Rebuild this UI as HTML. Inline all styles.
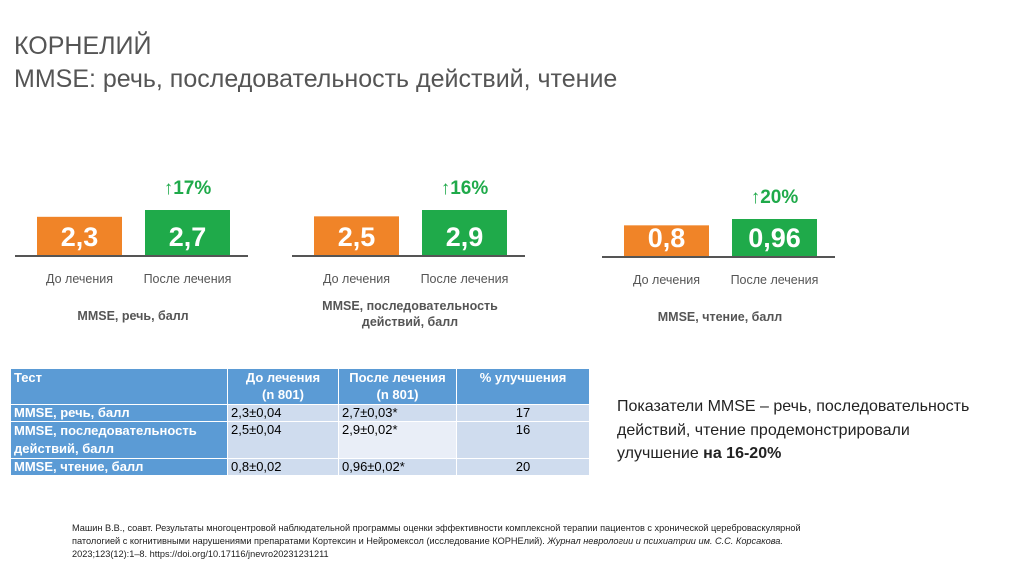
<!DOCTYPE html>
<html><head><meta charset="utf-8"><style>
body{margin:0;width:1024px;height:574px;background:#fff;font-family:"Liberation Sans",sans-serif;position:relative;overflow:hidden}
.t{position:absolute;left:14px;color:#555;font-size:25px}
table{position:absolute;left:10px;top:368px;border-collapse:collapse;font-size:13px;width:580px}
td{padding:0 3px;vertical-align:top;border:1px solid #fff;height:15px;line-height:16px}
.h td{background:#5b9bd5;color:#fff;font-weight:bold;text-align:center;height:35px;line-height:17px}
.h td:first-child{text-align:left}
.a td{background:#cfdcee}.b td{background:#e9eef7}
tr td.f{background:#5b9bd5;color:#fff;font-weight:bold}
.note{position:absolute;left:617px;top:395px;font-size:16px;line-height:23.5px;color:#222}
.foot{position:absolute;left:72px;top:522px;font-size:9.2px;line-height:13px;color:#222}
</style></head><body>
<div class="t" style="top:32px">КОРНЕЛИЙ</div>
<div class="t" style="top:65px">MMSE: речь, последовательность действий, чтение</div>
<svg id="c" width="1024" height="340" style="position:absolute;left:0;top:0"></svg>
<table>
<tr class="h"><td style="width:210px">Тест</td><td style="width:104px">До лечения<br>(n 801)</td><td style="width:111px">После лечения<br>(n 801)</td><td>% улучшения</td></tr>
<tr class="a"><td class="f">MMSE, речь, балл</td><td>2,3±0,04</td><td>2,7±0,03*</td><td style="text-align:center">17</td></tr>
<tr class="b"><td class="f" style="height:34px;line-height:18px">MMSE, последовательность действий, балл</td><td style="background:#cfdcee">2,5±0,04</td><td>2,9±0,02*</td><td style="text-align:center;background:#cfdcee">16</td></tr>
<tr class="a"><td class="f">MMSE, чтение, балл</td><td>0,8±0,02</td><td>0,96±0,02*</td><td style="text-align:center">20</td></tr>
</table>
<div class="note">Показатели MMSE – речь, последовательность<br>действий, чтение продемонстрировали<br>улучшение <b>на 16-20%</b></div>
<div class="foot">Машин В.В., соавт. Результаты многоцентровой наблюдательной программы оценки эффективности комплексной терапии пациентов с хронической цереброваскулярной<br>патологией с когнитивными нарушениями препаратами Кортексин и Нейромексол (исследование КОРНЕлий). <i>Журнал неврологии и психиатрии им. С.С. Корсакова.</i><br>2023;123(12):1–8. https://doi.org/10.17116/jnevro20231231211</div>
<script>
const charts=["MMSE, речь, балл","MMSE, последовательность|действий, балл","MMSE, чтение, балл"];
const before=[2.3,2.5,0.8];
const after=[2.7,2.9,0.96];
const beforeLabels=["2,3","2,5","0,8"];
const afterLabels=["2,7","2,9","0,96"];
const improve=["17%","16%","20%"];
const svg=document.getElementById('c');
const NS="http://www.w3.org/2000/svg";
const X0=[15,292,602], BASE=[256,256,257], HMAX=[46,46,38];
function mk(t,a,txt){const e=document.createElementNS(NS,t);for(const k in a)e.setAttribute(k,a[k]);if(txt!==undefined)e.textContent=txt;svg.appendChild(e);return e;}
function yScale(i,v){return BASE[i]-v/after[i]*HMAX[i];}
charts.forEach((c,i)=>{
 const x=X0[i];
 const ln=mk('line',{x1:x,x2:x+233,y1:BASE[i],y2:BASE[i],stroke:'#555','stroke-width':2});
 
 
 const vals=[before[i],after[i]],labs=[beforeLabels[i],afterLabels[i]],cols=['#f08428','#1faa4a'];
 vals.forEach((v,j)=>{
  const bx=x+22+j*108, y=yScale(i,v);
  const r=mk('rect',{x:bx,y:y,width:85,height:BASE[i]-y-1,fill:cols[j]});
  
  
  const t=mk('text',{x:bx+42.5,y:BASE[i]-10,'text-anchor':'middle',fill:'#fff','font-size':27,'font-weight':'bold'},labs[j]);
  
  
  const l=mk('text',{x:bx+42.5,y:BASE[i]+27,'text-anchor':'middle',fill:'#555','font-size':12.5},j?'После лечения':'До лечения');
  
  
 });
 const gx=x+130+42.5, gy=yScale(i,after[i]);
 const p=mk('text',{x:gx,y:gy-16,'text-anchor':'middle',fill:'#1faa4a','font-size':19,'font-weight':'bold'},'↑'+improve[i]);
 
 
 const lines=c.split('|');
 lines.forEach((s,k)=>{
  const cy=lines.length>1?306+k*16:BASE[i]+60;
  const ct=mk('text',{x:x+118,y:cy+4,'text-anchor':'middle',fill:'#555','font-size':12.5,'font-weight':'bold'},s);
  
  
 });
});
</script>
</body></html>
